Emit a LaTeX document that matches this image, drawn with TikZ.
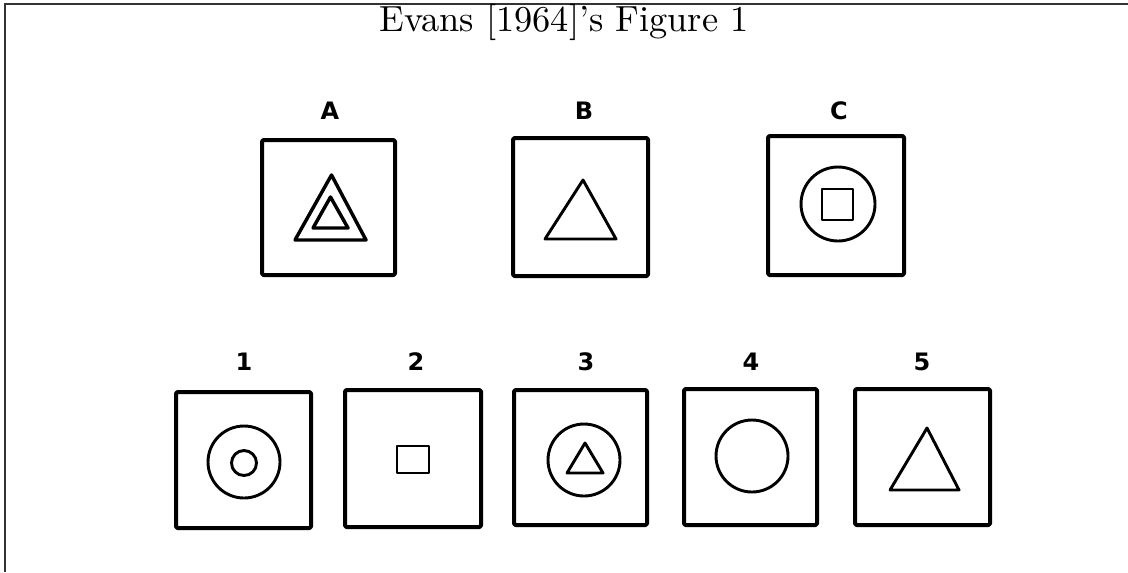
\documentclass[tikz,border=0pt]{standalone}
\usepackage{fontspec}
\newfontfamily\lblfont{DejaVu Sans}
\begin{document}
\begin{tikzpicture}[x=0.275pt,y=-0.275pt,
  frameline/.style={draw=black!80,line width=0.4pt},
  panel/.style={draw=black,line width=1.1pt,rounded corners=0.4pt,line join=round},
  fig/.style={draw=black,line width=0.8pt,line join=round},
  thickfig/.style={draw=black,line width=0.95pt,line join=round},
  lbl/.style={font=\lblfont\bfseries\fontsize{6.6}{7}\selectfont,inner sep=0pt},
  ttl/.style={font=\normalsize,inner sep=0pt}]
\useasboundingbox (0,0) rectangle (1128,572);
% frame (top and left edges visible)
\coordinate (ftl) at (5,4);
\coordinate (ftr) at (1128,4);
\coordinate (fbl) at (5,572);
\draw[frameline] (fbl) -- (ftl) -- (ftr);
% title
\node[ttl] (title) at (564,22) {Evans [1964]'s Figure 1};
% top row labels
\node[lbl] (lA) at (330,111) {A};
\node[lbl] (lB) at (584,111) {B};
\node[lbl] (lC) at (839,111) {C};
% bottom row labels
\node[lbl] (l1) at (244,362) {1};
\node[lbl] (l2) at (416,362) {2};
\node[lbl] (l3) at (586,362) {3};
\node[lbl] (l4) at (751,362) {4};
\node[lbl] (l5) at (922,362) {5};
% panel A
\draw[panel] (262,140) rectangle (395,275);
\draw[thickfig] (331.5,175) -- (366,240) -- (295,240) -- cycle;
\draw[thickfig] (330.5,197) -- (348,228) -- (313,228) -- cycle;
% panel B
\draw[panel] (513,138) rectangle (648,276);
\draw[fig] (583,180) -- (616,239) -- (545,239) -- cycle;
% panel C
\draw[panel] (768,136) rectangle (904,275);
\draw[fig] (838,204) circle[radius=37*0.275pt];
\draw[fig] (822,189) rectangle (853,220);
% panel 1
\draw[panel] (176,392) rectangle (311,528);
\draw[fig] (244,462) circle[radius=36*0.275pt];
\draw[fig] (244,463) circle[radius=12.5*0.275pt];
% panel 2
\draw[panel] (345,390) rectangle (481,527);
\draw[fig] (397,446) rectangle (429,473);
% panel 3
\draw[panel] (514,390) rectangle (647,525);
\draw[fig] (584,460) circle[radius=36*0.275pt];
\draw[fig] (585,443) -- (603,473) -- (567,473) -- cycle;
% panel 4
\draw[panel] (684,389) rectangle (817,525);
\draw[fig] (752,456) circle[radius=36*0.275pt];
% panel 5
\draw[panel] (855,389) rectangle (990,525);
\draw[fig] (927,428) -- (959,490) -- (890,490) -- cycle;
\end{tikzpicture}
\end{document}
